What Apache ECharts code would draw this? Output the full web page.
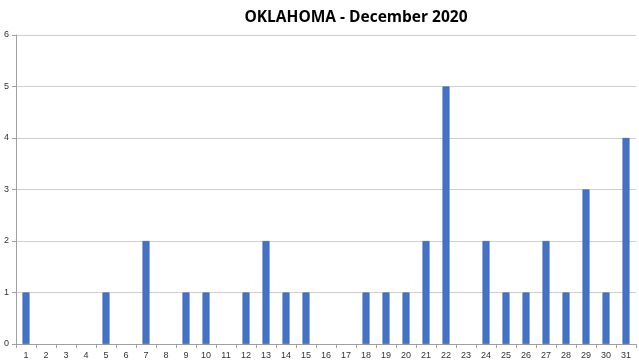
<!DOCTYPE html>
<html><head><meta charset="utf-8">
<script src="https://cdn.jsdelivr.net/npm/echarts@6/dist/echarts.min.js"></script>
<style>html,body{margin:0;padding:0;background:#fff}#c{width:639px;height:362px}</style>
</head><body><div id="c"></div>
<script>
const titleText = "OKLAHOMA - December 2020";
const days = ["1","2","3","4","5","6","7","8","9","10","11","12","13","14","15","16","17","18","19","20","21","22","23","24","25","26","27","28","29","30","31"];
const counts = [1,0,0,0,1,0,2,0,1,1,0,1,2,1,1,0,0,1,1,1,2,5,0,2,1,1,2,1,3,1,4];
const yTicks = {min:0, max:6, interval:1};

const chart = echarts.init(document.getElementById('c'), null, {renderer:'canvas'});
chart.setOption({
  animation:false,
  title:{text:titleText, left:351, top:5, textAlign:'center',
    textStyle:{fontFamily:'Open Sans', fontWeight:'bold', fontSize:15.5, color:'#000'}},
  grid:{left:16, right:3, top:35, bottom:18, containLabel:false},
  xAxis:{type:'category', data:days, boundaryGap:true,
    axisLine:{lineStyle:{color:'#a0a0a0'}},
    axisTick:{show:true, length:4, lineStyle:{color:'#a0a0a0'}},
    axisLabel:{color:'#333', fontSize:9, fontFamily:'Liberation Sans', margin:7, interval:0}},
  yAxis:{type:'value', min:yTicks.min, max:yTicks.max, interval:yTicks.interval,
    axisLine:{show:true, lineStyle:{color:'#a0a0a0'}},
    axisTick:{show:true, length:4, lineStyle:{color:'#a0a0a0'}},
    splitLine:{lineStyle:{color:'#cfcfcf'}},
    axisLabel:{color:'#333', fontSize:9, fontFamily:'Liberation Sans', margin:7}},
  series:[{type:'bar', data:counts.map(v => v === 0 ? null : v), barWidth:7,
    itemStyle:{color:'#4472C4', borderColor:'#3060b5', borderWidth:0.6}}]
});
</script></body></html>
